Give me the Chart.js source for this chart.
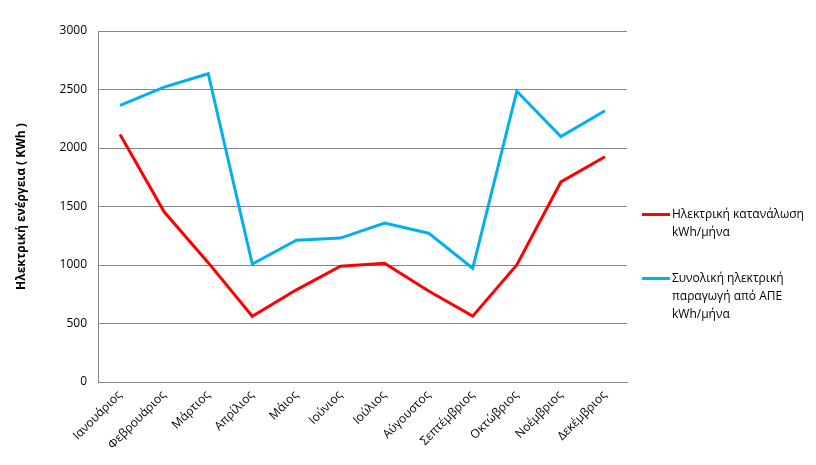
<!DOCTYPE html>
<html>
<head>
    <title>Ηλεκτρική ενέργεια ανά μήνα</title>
    <script src="https://cdn.jsdelivr.net/npm/chart.js"></script>
    <style>
        body { margin: 0; background: #fff; font-family: "Open Sans", sans-serif; }
        #wrap { position: relative; width: 816px; height: 465px; }
        .legend-item { position: absolute; left: 642px; font-size: 12px; line-height: 18px; color: #000; }
        .legend-item .swatch { position: absolute; left: 0; top: 8px; width: 28px; height: 3px; }
        .legend-item .txt { margin-left: 30px; white-space: nowrap; }
    </style>
</head>
<body>
<div id="wrap">
    <canvas id="energyChart" width="816" height="465"></canvas>
    <div id="legend"></div>
</div>
<script>
    const months = ['Ιανουάριος', 'Φεβρουάριος', 'Μάρτιος', 'Απρίλιος', 'Μάιος', 'Ιούνιος',
                    'Ιούλιος', 'Αύγουστος', 'Σεπτέμβριος', 'Οκτώβριος', 'Νοέμβριος', 'Δεκέμβριος'];
    const consumption = [2115, 1455, 1020, 562, 788, 990, 1015, 778, 563, 1000, 1710, 1925];
    const production = [2365, 2520, 2635, 1008, 1212, 1230, 1358, 1272, 972, 2485, 2097, 2318];
    const yTicks = [0, 500, 1000, 1500, 2000, 2500, 3000];

    const seriesNames = [
        ['Ηλεκτρική κατανάλωση', 'kWh/μήνα'],
        ['Συνολική ηλεκτρική', 'παραγωγή από ΑΠΕ', 'kWh/μήνα']
    ];
    const seriesColors = ['#ff0000', '#00b0f0'];

    const font = { family: '"Open Sans", sans-serif', size: 12 };

    new Chart(document.getElementById('energyChart'), {
        type: 'line',
        data: {
            labels: months,
            datasets: [
                { label: seriesNames[0].join(' '), data: consumption, borderColor: seriesColors[0],
                  borderWidth: 3, pointRadius: 0, tension: 0, fill: false },
                { label: seriesNames[1].join(' '), data: production, borderColor: seriesColors[1],
                  borderWidth: 3, pointRadius: 0, tension: 0, fill: false }
            ]
        },
        options: {
            responsive: false,
            animation: false,
            layout: { padding: { left: 14, right: 189, top: 31, bottom: 0 } },
            plugins: { legend: { display: false }, tooltip: { enabled: false } },
            scales: {
                x: {
                    offset: true,
                    afterFit: s => { s.height = 83; },
                    grid: { display: false, drawTicks: false, offset: true },
                    border: { color: '#868686', width: 1 },
                    ticks: { color: '#000', font: font, minRotation: 45, maxRotation: 45, padding: 6, autoSkip: false }
                },
                y: {
                    min: 0, max: 3000,
                    afterFit: s => { s.width = 84; },
                    afterBuildTicks: s => { s.ticks = yTicks.map(v => ({ value: v })); },
                    grid: { color: '#868686', lineWidth: 1, drawTicks: false },
                    border: { color: '#868686', width: 1 },
                    ticks: { color: '#000', font: font, padding: 11, callback: v => String(v) },
                    title: {
                        display: true,
                        text: 'Ηλεκτρική ενέργεια ( KWh )',
                        color: '#000',
                        font: { family: '"Open Sans", sans-serif', size: 12, weight: 'bold' },
                        padding: { top: 0, bottom: 0 }
                    }
                }
            }
        }
    });

    const legendTops = [205, 269];
    const legend = document.getElementById('legend');
    seriesNames.forEach((lines, i) => {
        const item = document.createElement('div');
        item.className = 'legend-item';
        item.style.top = legendTops[i] + 'px';
        item.innerHTML = `<div class="swatch" style="background:${seriesColors[i]}"></div>` +
            `<div class="txt">${lines.join('<br>')}</div>`;
        legend.appendChild(item);
    });
</script>
</body>
</html>
